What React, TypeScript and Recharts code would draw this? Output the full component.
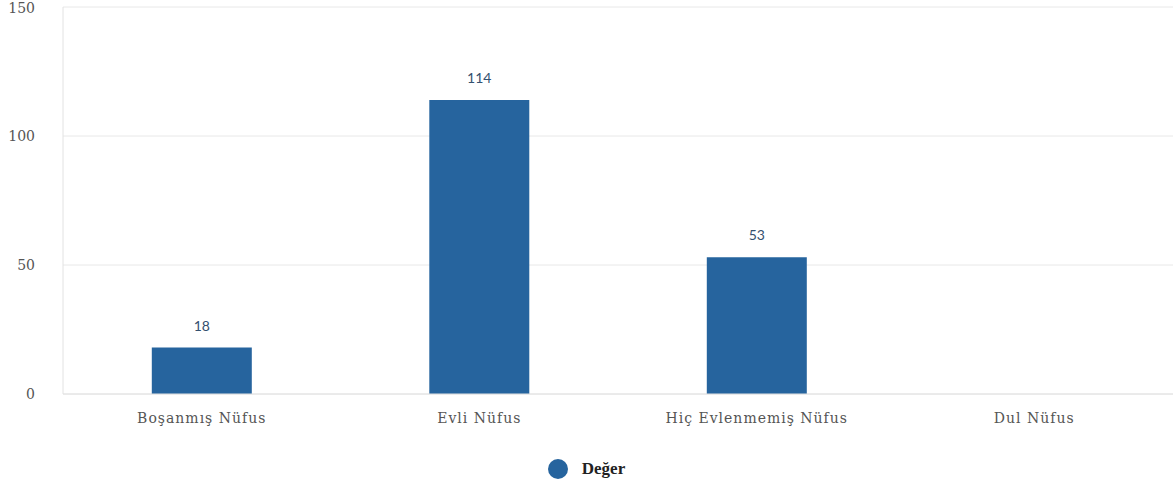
import { BarChart, Bar, XAxis, YAxis, CartesianGrid, Legend, LabelList } from 'recharts';

const categories = ['Boşanmış Nüfus', 'Evli Nüfus', 'Hiç Evlenmemiş Nüfus', 'Dul Nüfus'];
const values = [18, 114, 53, 0];
const yTicks = [0, 50, 100, 150];
const seriesName = 'Değer';

const BAR_COLOR = '#26649e';

const data = categories.map((name, i) => ({ name, value: values[i] }));

function LegendContent() {
  return (
    <div style={{ display: 'flex', justifyContent: 'center', alignItems: 'center', gap: 14 }}>
      <span style={{ width: 20, height: 20, borderRadius: '50%', background: BAR_COLOR, display: 'inline-block' }} />
      <span style={{ fontFamily: '"Liberation Serif", serif', fontWeight: 'bold', fontSize: 17, color: '#222' }}>{seriesName}</span>
    </div>
  );
}

export default function App() {
  return (
    <div style={{ position: 'absolute', left: 0, top: 0, width: 1175, height: 492, background: '#fff' }}>
      <BarChart width={1175} height={492} data={data} margin={{ top: 7, right: 2, left: 0, bottom: 0 }} barCategoryGap="32%">
        <CartesianGrid vertical={false} stroke="#e8e8e8" />
        <XAxis
          dataKey="name"
          height={40}
          tickLine={false}
          axisLine={{ stroke: '#e2e2e2' }}
          tickMargin={13}
          tick={{ fontFamily: '"DejaVu Serif", serif', fontSize: 14, fill: '#555', letterSpacing: 1 }}
        />
        <YAxis
          width={63}
          domain={[0, 150]}
          ticks={yTicks}
          tickLine={false}
          axisLine={{ stroke: '#e2e2e2' }}
          tickMargin={22}
          tick={{ fontFamily: '"DejaVu Serif", serif', fontSize: 14, fill: '#555' }}
        />
        <Legend
          verticalAlign="bottom"
          height={58}
          wrapperStyle={{ top: 459, bottom: 'auto' }}
          content={<LegendContent />}
        />
        <Bar dataKey="value" name={seriesName} fill={BAR_COLOR} isAnimationActive={false}>
          <LabelList
            dataKey="value"
            position="top"
            offset={17}
            formatter={(v: any) => (v ? v : '')}
            style={{ fontFamily: 'Lato, sans-serif', fontSize: 14, fill: '#34506f' }}
          />
        </Bar>
      </BarChart>
    </div>
  );
}
